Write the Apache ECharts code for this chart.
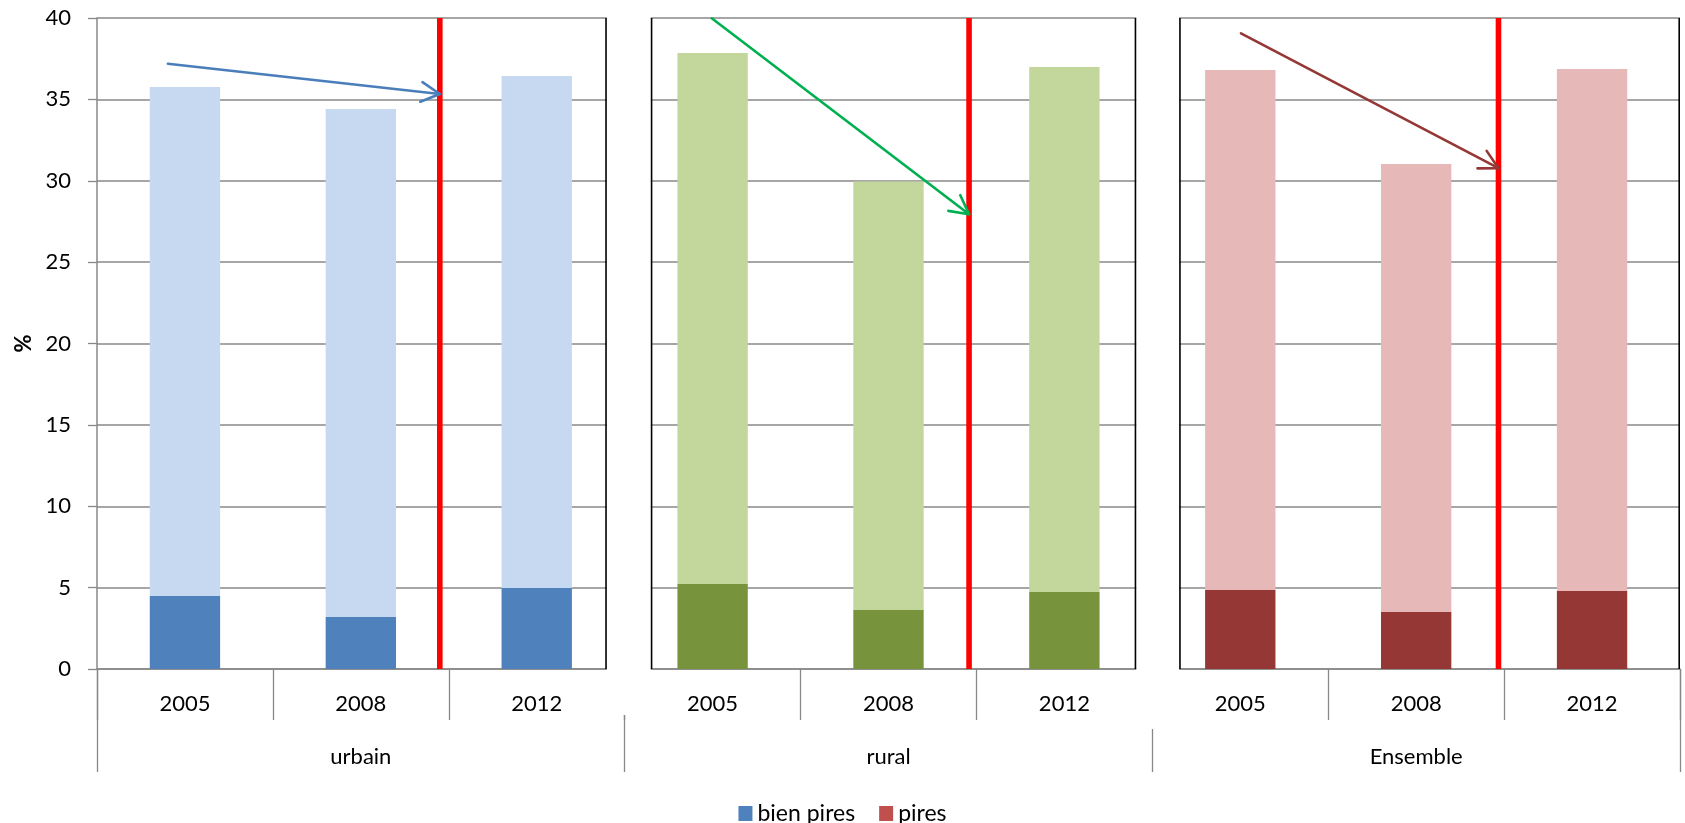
<!DOCTYPE html>
<html>
<head>
<meta charset="utf-8">
<script src="https://cdn.jsdelivr.net/npm/echarts@6/dist/echarts.min.js"></script>
<style>
  html, body { margin: 0; padding: 0; background: #fff; }
  #chart { width: 1685px; height: 823px; }
</style>
</head>
<body>
<div id="chart"></div>
<script>
// Years (inner level) and areas (outer level) of the category axis
const years = ['2005', '2008', '2012', '2005', '2008', '2012', '2005', '2008', '2012'];
const groups = ['urbain', 'rural', 'Ensemble'];

// Stacked shares, in %
const bienPires = [4.50, 3.20, 4.97, 5.22, 3.63, 4.73, 4.85, 3.50, 4.79];
const pires = [31.26, 31.21, 31.47, 32.63, 26.33, 32.26, 31.95, 27.53, 32.08];

// Value axis ticks
const yMin = 0, yMax = 40, yStep = 5;

// Reference lines and trend arrows, in axis units (category i is centred on i)
const refLineX = [1.449, 4.458, 7.468];
const arrowFrom = [[-0.097, 37.19], [2.995, 39.98], [6.004, 39.06]];
const arrowTo = [[1.449, 35.33], [4.458, 27.94], [7.468, 30.77]];

// ---- styling ----
const FONT = 'Lato, "Open Sans", sans-serif';
const darkColors = ['#4F81BD', '#77933C', '#953735'];
const lightColors = ['#C6D9F1', '#C3D69B', '#E6B9B8'];
const arrowColors = ['#4A7EBB', '#00B050', '#953735'];
const GRID_GRAY = '#888888';

// Blank strips separating the three panels: [left edge, right edge, depth below axis (px)]
const panelGaps = [[2.394, 2.653, 46], [5.404, 5.657, 60]];
const panelRightEdge = 8.5;

const panelOf = i => Math.floor(i / 3);

const chart = echarts.init(document.getElementById('chart'), null, { renderer: 'canvas' });

chart.setOption({
  animation: false,
  backgroundColor: '#fff',
  textStyle: { fontFamily: FONT },
  grid: { left: 97, right: 5, top: 18, bottom: 154, containLabel: false, outerBoundsMode: 'none' },
  legend: {
    data: ['bien pires', 'pires'],
    left: 'center',
    top: 797,
    icon: 'rect',
    itemWidth: 14,
    itemHeight: 15,
    itemGap: 24,
    textStyle: { fontFamily: FONT, fontSize: 23, color: '#000' }
  },
  xAxis: [
    {
      type: 'category',
      data: years,
      position: 'bottom',
      axisLine: { show: true, onZero: false, lineStyle: { color: GRID_GRAY, width: 1.5 } },
      axisTick: { show: true, interval: 0, length: 51, lineStyle: { color: GRID_GRAY, width: 1.3 } },
      axisLabel: { interval: 0, margin: 24, fontSize: 22, color: '#000', fontFamily: FONT },
      splitLine: { show: false }
    },
    {
      type: 'category',
      data: groups,
      position: 'bottom',
      axisLine: { show: false, onZero: false },
      axisTick: { show: true, interval: 0, length: 103, lineStyle: { color: GRID_GRAY, width: 1.3 } },
      axisLabel: { interval: 0, margin: 77, fontSize: 22, color: '#000', fontFamily: FONT },
      splitLine: { show: false }
    },
    {
      type: 'value',
      min: -0.5,
      max: 8.5,
      show: false,
      axisLine: { onZero: false },
      splitLine: { show: false }
    }
  ],
  yAxis: {
    type: 'value',
    min: yMin,
    max: yMax,
    interval: yStep,
    name: '%',
    nameLocation: 'middle',
    nameGap: 62,
    nameRotate: 90,
    nameTextStyle: { fontSize: 22, fontWeight: 'bold', color: '#000', fontFamily: FONT },
    axisLine: { show: true, onZero: false, lineStyle: { color: GRID_GRAY, width: 1.5 } },
    axisTick: { show: true, length: 9, lineStyle: { color: GRID_GRAY, width: 1.3 } },
    axisLabel: { margin: 26, fontSize: 22, color: '#000', fontFamily: FONT },
    splitLine: { show: true, lineStyle: { color: GRID_GRAY, width: 1.5 } }
  },
  series: [
    {
      name: 'bien pires',
      type: 'bar',
      stack: 'total',
      xAxisIndex: 0,
      barCategoryGap: '60%',
      itemStyle: { color: '#4F81BD' },
      data: bienPires.map((v, i) => ({ value: v, itemStyle: { color: darkColors[panelOf(i)] } })),
      z: 2
    },
    {
      name: 'pires',
      type: 'bar',
      stack: 'total',
      xAxisIndex: 0,
      barCategoryGap: '60%',
      itemStyle: { color: '#C0504D' },
      data: pires.map((v, i) => ({ value: v, itemStyle: { color: lightColors[panelOf(i)] } })),
      z: 2
    },
    {
      // white separators between panels with their black frame edges
      name: 'frames',
      type: 'custom',
      xAxisIndex: 2,
      yAxisIndex: 0,
      silent: true,
      z: 4,
      clip: false,
      data: panelGaps.map(g => [g[0], 0]),
      renderItem: function (params, api) {
        const g = panelGaps[params.dataIndex];
        const a = api.coord([g[0], yMax]);
        const b = api.coord([g[1], yMin]);
        const children = [
          { type: 'rect', shape: { x: a[0] + 0.8, y: a[1] - 2, width: b[0] - a[0] - 1.6, height: b[1] - a[1] + 2 + g[2] }, style: { fill: '#fff' } },
          { type: 'line', shape: { x1: a[0], y1: a[1], x2: a[0], y2: b[1] }, style: { stroke: '#000', lineWidth: 1.6 } },
          { type: 'line', shape: { x1: b[0], y1: a[1], x2: b[0], y2: b[1] }, style: { stroke: '#000', lineWidth: 1.6 } }
        ];
        if (params.dataIndex === panelGaps.length - 1) {
          const r0 = api.coord([panelRightEdge, yMax]);
          const r1 = api.coord([panelRightEdge, yMin]);
          children.push({ type: 'line', shape: { x1: r0[0] - 0.8, y1: r0[1], x2: r1[0] - 0.8, y2: r1[1] }, style: { stroke: '#000', lineWidth: 1.6 } });
        }
        return { type: 'group', children: children };
      }
    },
    {
      // red vertical reference lines
      name: 'reference',
      type: 'custom',
      xAxisIndex: 2,
      yAxisIndex: 0,
      silent: true,
      z: 5,
      clip: false,
      data: refLineX.map(x => [x, 0]),
      renderItem: function (params, api) {
        const x = refLineX[params.dataIndex];
        const p0 = api.coord([x, yMin]);
        const p1 = api.coord([x, yMax]);
        return { type: 'line', shape: { x1: p0[0], y1: p0[1], x2: p1[0], y2: p1[1] }, style: { stroke: '#FF0000', lineWidth: 5.6 } };
      }
    },
    {
      // trend arrows with open heads
      name: 'trend',
      type: 'custom',
      xAxisIndex: 2,
      yAxisIndex: 0,
      silent: true,
      z: 6,
      clip: false,
      data: arrowFrom.map(p => p.slice()),
      renderItem: function (params, api) {
        const i = params.dataIndex;
        const s = api.coord(arrowFrom[i]);
        const e = api.coord(arrowTo[i]);
        const ang = Math.atan2(e[1] - s[1], e[0] - s[0]);
        const len = 21, spread = 28 * Math.PI / 180;
        const h1 = [e[0] - len * Math.cos(ang - spread), e[1] - len * Math.sin(ang - spread)];
        const h2 = [e[0] - len * Math.cos(ang + spread), e[1] - len * Math.sin(ang + spread)];
        const st = { stroke: arrowColors[i], lineWidth: 2.6, lineCap: 'round', lineJoin: 'round', fill: null };
        return {
          type: 'group',
          children: [
            { type: 'line', shape: { x1: s[0], y1: s[1], x2: e[0], y2: e[1] }, style: st },
            { type: 'polyline', shape: { points: [h1, e, h2] }, style: st }
          ]
        };
      }
    }
  ]
});
</script>
</body>
</html>
